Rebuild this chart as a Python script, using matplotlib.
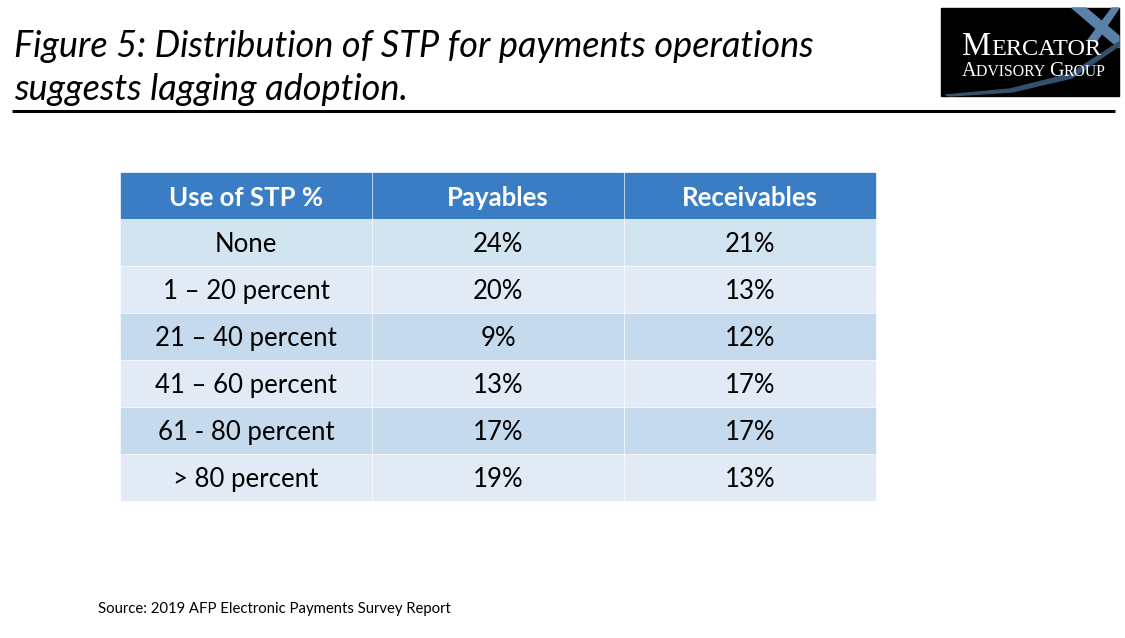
import matplotlib.pyplot as plt
from matplotlib.patches import Rectangle, Polygon

# table data
headers = ["Use of STP %", "Payables", "Receivables"]
ranges = ["None", "1 \u2013 20 percent", "21 \u2013 40 percent", "41 \u2013 60 percent",
          "61 - 80 percent", "> 80 percent"]
payables = [24, 20, 9, 13, 17, 19]
receivables = [21, 13, 12, 17, 17, 13]

title_lines = ["Figure 5: Distribution of STP for payments operations",
               "suggests lagging adoption."]
source = "Source: 2019 AFP Electronic Payments Survey Report"

font = "Lato"
header_color = "#3B7DC4"
row_colors = ["#D2E4F0", "#E2EBF5", "#C6DAEE", "#E2EBF5", "#C6DAEE", "#E2EBF5"]

W, H = 1125, 638
fig = plt.figure(figsize=(W / 100, H / 100), dpi=100)
ax = fig.add_axes([0, 0, 1, 1])
ax.set_xlim(0, W)
ax.set_ylim(H, 0)
ax.axis("off")
renderer = fig.canvas.get_renderer()

# title and rule
ax.text(14, 57, title_lines[0], fontsize=26, style="italic", family=font,
        va="baseline", ha="left")
ax.text(14, 100, title_lines[1], fontsize=26, style="italic", family=font,
        va="baseline", ha="left")
ax.plot([12, 1115], [111, 111], color="black", lw=2.2, solid_capstyle="butt")

# logo
ax.add_patch(Rectangle((941, 8), 178, 88, color="black"))
ax.add_patch(Polygon([[1072, 8], [1086, 8], [1119, 36], [1119, 48]], color="#5A82A8"))
ax.add_patch(Polygon([[1088, 40], [1112, 8], [1119, 8], [1096, 42]], color="#5A82A8"))
ax.add_patch(Polygon([[946, 95], [1010, 89], [1070, 74], [1119, 42], [1119, 46],
                      [1072, 78], [1012, 92], [950, 96]], color="#34506C"))


def small_caps(x, y, parts):
    # parts: list of (text, size); placed one after another on a baseline
    for txt, size in parts:
        t = ax.text(x, y, txt, fontsize=size, family="Liberation Serif",
                    color="white", ha="left", va="baseline")
        bb = t.get_window_extent(renderer)
        x += bb.width


small_caps(962, 55, [("M", 23.5), ("ERCATOR", 17.5)])
small_caps(962, 76, [("A", 14.5), ("DVISORY ", 11.3), ("G", 14.5), ("ROUP", 11.3)])

# table
col_x = [121, 373, 625, 877]
top = 173
head_h = 45
row_h = 47
gap = 2

for j, h in enumerate(headers):
    x0, x1 = col_x[j], col_x[j + 1] - gap
    ax.add_patch(Rectangle((x0, top), x1 - x0, head_h, color=header_color))
    ax.text((x0 + x1) / 2, top + head_h / 2 + 2, h, fontsize=18.5, weight="bold",
            family=font, color="white", ha="center", va="center")

for i in range(len(ranges)):
    y0 = top + head_h + gap + i * row_h
    cells = [ranges[i], f"{payables[i]}%", f"{receivables[i]}%"]
    for j, c in enumerate(cells):
        x0, x1 = col_x[j], col_x[j + 1] - gap
        ax.add_patch(Rectangle((x0, y0), x1 - x0, row_h - gap, color=row_colors[i]))
        ax.text((x0 + x1) / 2, y0 + (row_h - gap) / 2 + 2, c, fontsize=18.5,
                family=font, color="black", ha="center", va="center")

ax.text(98, 609, source, fontsize=10.7, family=font, ha="left", va="center")

fig.savefig("out.png", dpi=100)
